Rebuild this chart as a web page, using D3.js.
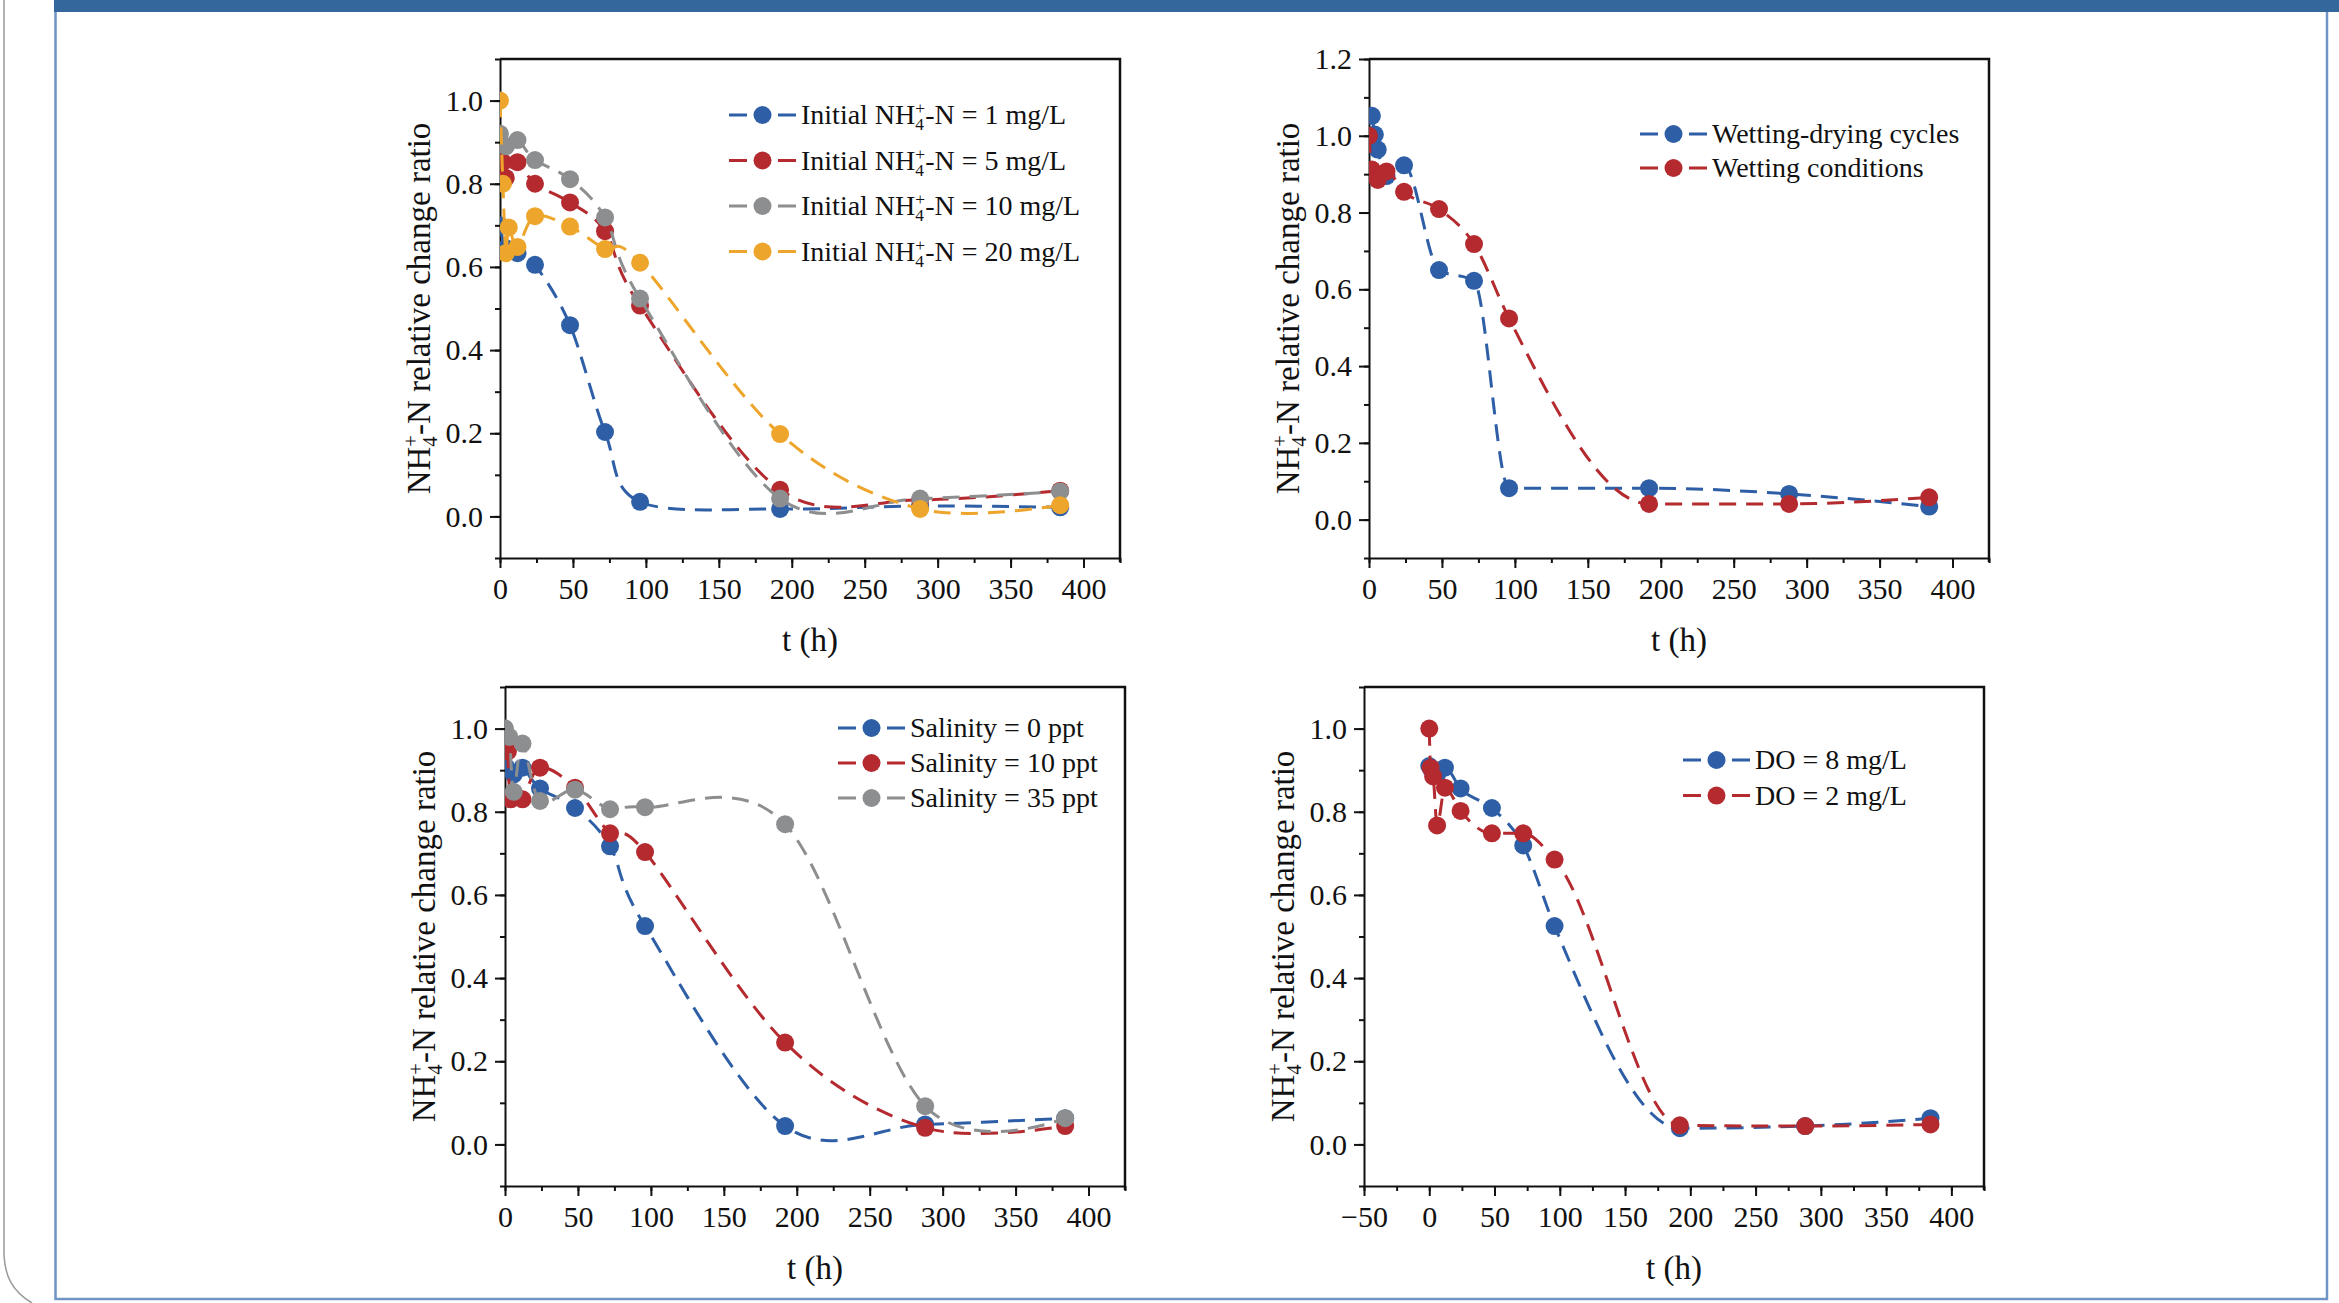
<!DOCTYPE html>
<html>
<head>
<meta charset="utf-8">
<script src="https://cdn.jsdelivr.net/npm/d3@7"></script>
<style>
  body { margin: 0; background: #fff; }
  text { font-family: "Liberation Serif", "Times New Roman", serif; fill: #111; }
</style>
</head>
<body>
<script>
// ---- data (t in hours, NH4+-N relative change ratio) ----

// (a) initial NH4+-N concentration
const initTime1 = [0, 4, 12, 24, 48, 72, 96, 192, 288, 384];
const initVal1 = [0.70, 0.645, 0.633, 0.605, 0.46, 0.203, 0.035, 0.018, 0.025, 0.022];
const initTime5 = [2, 4, 12, 24, 48, 72, 96, 192, 288, 384];
const initVal5 = [0.852, 0.814, 0.852, 0.80, 0.755, 0.686, 0.507, 0.064, 0.04, 0.062];
const initTime10 = [0, 4, 12, 24, 48, 72, 96, 192, 288, 384];
const initVal10 = [0.92, 0.89, 0.905, 0.857, 0.811, 0.719, 0.524, 0.043, 0.043, 0.06];
const initTime20 = [0, 2, 4, 6, 12, 24, 48, 72, 96, 192, 288, 384];
const initVal20 = [1.0, 0.80, 0.633, 0.695, 0.648, 0.722, 0.697, 0.643, 0.61, 0.198, 0.018, 0.027];

// (b) wetting-drying vs wetting
const wdTime = [2, 4, 6, 12, 24, 48, 72, 96, 192, 288, 384];
const wdVal = [1.052, 1.003, 0.964, 0.895, 0.923, 0.65, 0.622, 0.082, 0.082, 0.067, 0.034];
const wetTime = [0, 2, 6, 12, 24, 48, 72, 96, 192, 288, 384];
const wetVal = [1.0, 0.912, 0.885, 0.907, 0.854, 0.809, 0.718, 0.524, 0.041, 0.041, 0.058];

// (c) salinity
const sal0Time = [1, 6, 12, 24, 48, 72, 96, 192, 288, 384];
const sal0Val = [0.906, 0.89, 0.906, 0.856, 0.809, 0.717, 0.525, 0.044, 0.048, 0.063];
const sal10Time = [2, 4, 12, 24, 48, 72, 96, 192, 288, 384];
const sal10Val = [0.945, 0.83, 0.83, 0.906, 0.858, 0.748, 0.703, 0.245, 0.04, 0.044];
const sal35Time = [0, 3, 6, 12, 24, 48, 72, 96, 192, 288, 384];
const sal35Val = [1.0, 0.98, 0.848, 0.964, 0.826, 0.853, 0.806, 0.811, 0.77, 0.092, 0.063];

// (d) dissolved oxygen
const do8Time = [0, 2, 6, 12, 24, 48, 72, 96, 192, 288, 384];
const do8Val = [0.91, 0.90, 0.89, 0.906, 0.856, 0.809, 0.719, 0.525, 0.039, 0.044, 0.063];
const do2Time = [0, 1, 3, 6, 12, 24, 48, 72, 96, 192, 288, 384];
const do2Val = [1.0, 0.906, 0.885, 0.767, 0.858, 0.802, 0.748, 0.748, 0.685, 0.046, 0.044, 0.048];

// tick labels
const xTicks = [0, 50, 100, 150, 200, 250, 300, 350, 400];
const xTicksDO = [-50, 0, 50, 100, 150, 200, 250, 300, 350, 400];
const yTicks = [0, 0.2, 0.4, 0.6, 0.8, 1.0];
const yTicksWD = [0, 0.2, 0.4, 0.6, 0.8, 1.0, 1.2];

const BLUE = "#2e5fa6", RED = "#b42a2f", GRAY = "#8d8e8f", ORANGE = "#eea52b";

const panels = [
  {
    left: 500, top: 59, xDom: [0, 425], yDom: [-0.1, 1.1], xt: xTicks, yt: yTicks,
    curve: d3.curveCatmullRom.alpha(0),
    leg: { x: 229, y: 56, step: 45.5 },
    series: [
      { t: initTime1, v: initVal1, color: BLUE, nh4: ["Initial ", " = 1 mg/L"] },
      { t: initTime5, v: initVal5, color: RED, nh4: ["Initial ", " = 5 mg/L"] },
      { t: initTime10, v: initVal10, color: GRAY, nh4: ["Initial ", " = 10 mg/L"] },
      { t: initTime20, v: initVal20, color: ORANGE, nh4: ["Initial ", " = 20 mg/L"] }
    ]
  },
  {
    left: 1369, top: 59, xDom: [0, 425], yDom: [-0.1, 1.2], xt: xTicks, yt: yTicksWD,
    curve: d3.curveMonotoneX,
    leg: { x: 271, y: 75, step: 34 },
    series: [
      { t: wdTime, v: wdVal, color: BLUE, label: "Wetting-drying cycles" },
      { t: wetTime, v: wetVal, color: RED, label: "Wetting conditions" }
    ]
  },
  {
    left: 505, top: 687, xDom: [0, 425], yDom: [-0.1, 1.1], xt: xTicks, yt: yTicks,
    curve: d3.curveCatmullRom.alpha(0),
    leg: { x: 333, y: 41, step: 35 },
    series: [
      { t: sal0Time, v: sal0Val, color: BLUE, label: "Salinity = 0 ppt" },
      { t: sal10Time, v: sal10Val, color: RED, label: "Salinity = 10 ppt" },
      { t: sal35Time, v: sal35Val, color: GRAY, label: "Salinity = 35 ppt" }
    ]
  },
  {
    left: 1364, top: 687, xDom: [-50, 425], yDom: [-0.1, 1.1], xt: xTicksDO, yt: yTicks,
    curve: d3.curveMonotoneX,
    leg: { x: 319, y: 73, step: 35.6 },
    series: [
      { t: do8Time, v: do8Val, color: BLUE, label: "DO = 8 mg/L" },
      { t: do2Time, v: do2Val, color: RED, label: "DO = 2 mg/L" }
    ]
  }
];

const W = 620, H = 499;
const DASH = "17,10";
const R = 9;

const svg = d3.select("body").append("svg")
  .attr("width", 2339)
  .attr("height", 1303);

// page decoration around the figure
svg.append("path")
  .attr("d", "M4,0 V1255 C5,1276 12,1291 32,1303")
  .attr("fill", "none").attr("stroke", "#9a9a9a").attr("stroke-width", 1.5);
svg.append("path")
  .attr("d", "M55.5,12 V1299 H2327 V12")
  .attr("fill", "none").attr("stroke", "#7094c6").attr("stroke-width", 2.5);
svg.append("rect")
  .attr("x", 54).attr("y", 0).attr("width", 2285).attr("height", 12)
  .attr("fill", "#34679b");

// NH4+-N with stacked sub/superscript
function nh4(textSel, fs, before, after) {
  const s = fs * 0.62;
  textSel.append("tspan").text(before + "NH");
  textSel.append("tspan").attr("font-size", s).attr("dy", -fs * 0.36).text("+");
  textSel.append("tspan").attr("font-size", s)
    .attr("dx", -s * 0.564).attr("dy", fs * 0.58).text("4");
  textSel.append("tspan").attr("dx", s * 0.07).attr("dy", -fs * 0.22).text("-N" + after);
}

panels.forEach((p, pi) => {
  const g = svg.append("g").attr("transform", `translate(${p.left},${p.top})`);

  const x = d3.scaleLinear().domain(p.xDom).range([0, W]);
  const y = d3.scaleLinear().domain(p.yDom).range([H, 0]);

  g.append("clipPath").attr("id", `clip-${pi}`)
    .append("rect").attr("width", W).attr("height", H);

  // minor ticks
  const xMinor = d3.range(p.xDom[0], p.xDom[1] + 0.1, 25);
  const yMinor = d3.range(-1, Math.round(p.yDom[1] * 10) + 1).map(d => d / 10);

  g.append("g").attr("transform", `translate(0,${H})`)
    .call(d3.axisBottom(x).tickValues(xMinor).tickSize(5).tickSizeOuter(0).tickFormat(""))
    .call(a => a.select(".domain").remove());
  g.append("g")
    .call(d3.axisLeft(y).tickValues(yMinor).tickSize(5).tickSizeOuter(0).tickFormat(""))
    .call(a => a.select(".domain").remove());

  // major axes
  const xAxis = g.append("g").attr("transform", `translate(0,${H})`)
    .call(d3.axisBottom(x).tickValues(p.xt).tickSize(10).tickSizeOuter(0).tickPadding(10)
      .tickFormat(d3.format("d")));
  const yAxis = g.append("g")
    .call(d3.axisLeft(y).tickValues(p.yt).tickSize(10).tickSizeOuter(0).tickPadding(7)
      .tickFormat(d3.format(".1f")));

  [xAxis, yAxis].forEach(a => {
    a.selectAll("line, path").attr("stroke", "#111").attr("stroke-width", 2);
    a.selectAll("text").attr("font-size", 30).attr("fill", "#111")
      .style("font-family", "'Liberation Serif', 'Times New Roman', serif");
  });
  g.selectAll(".tick line").attr("stroke", "#111").attr("stroke-width", 2);

  // top and right frame
  g.append("path")
    .attr("d", `M0,0 H${W} V${H + 4}`)
    .attr("fill", "none").attr("stroke", "#111").attr("stroke-width", 2.5);

  // axis titles
  g.append("text")
    .attr("x", W / 2).attr("y", H + 93)
    .attr("text-anchor", "middle").attr("font-size", 33)
    .text("t (h)");

  const yt = g.append("text")
    .attr("transform", `translate(-70,${H / 2}) rotate(-90)`)
    .attr("text-anchor", "middle").attr("font-size", 33);
  nh4(yt, 33, "", " relative change ratio");

  // series
  const line = d3.line()
    .x(d => x(d[0]))
    .y(d => y(d[1]))
    .curve(p.curve);

  const plot = g.append("g").attr("clip-path", `url(#clip-${pi})`);

  p.series.forEach(s => {
    const pts = s.t.map((t, i) => [t, s.v[i]]);
    plot.append("path")
      .datum(pts)
      .attr("d", line)
      .attr("fill", "none")
      .attr("stroke", s.color)
      .attr("stroke-width", 3)
      .attr("stroke-dasharray", DASH);
    plot.selectAll(null)
      .data(pts)
      .enter()
      .append("circle")
      .attr("cx", d => x(d[0]))
      .attr("cy", d => y(d[1]))
      .attr("r", R)
      .attr("fill", s.color);
  });

  // legend
  const leg = g.append("g").attr("transform", `translate(${p.leg.x},${p.leg.y})`);
  p.series.forEach((s, i) => {
    const row = leg.append("g").attr("transform", `translate(0,${i * p.leg.step})`);
    row.append("line")
      .attr("x1", 0).attr("x2", 67)
      .attr("stroke", s.color).attr("stroke-width", 3)
      .attr("stroke-dasharray", "18,31,18");
    row.append("circle").attr("cx", 33.5).attr("r", R).attr("fill", s.color);
    const t = row.append("text")
      .attr("x", 72).attr("dy", "0.33em")
      .attr("font-size", 28);
    if (s.nh4) nh4(t, 28, s.nh4[0], s.nh4[1]);
    else t.text(s.label);
  });
});
</script>
</body>
</html>
